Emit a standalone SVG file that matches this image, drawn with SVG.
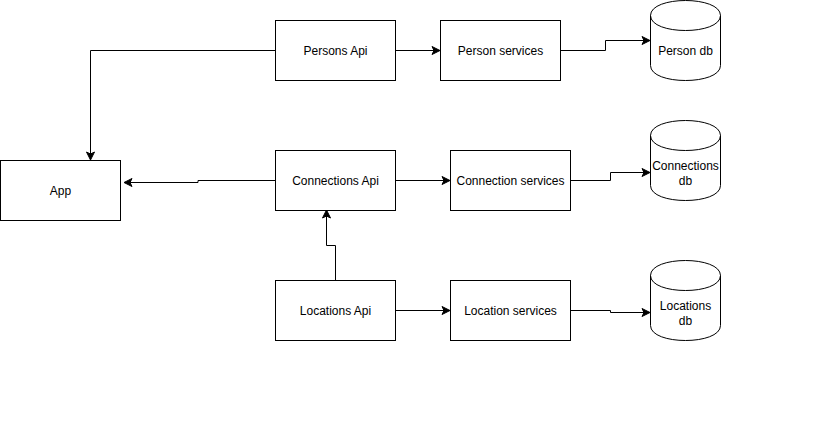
<svg xmlns="http://www.w3.org/2000/svg" width="831" height="426" viewBox="0 0 831 426">
<style>
.box{fill:#fff;stroke:#000;stroke-width:1}
.edge{fill:none;stroke:#000;stroke-width:1}
text{font-family:"Liberation Sans",Arial,sans-serif;font-size:12px;fill:#000;text-anchor:middle}
</style>
<defs>
<marker id="arr" markerUnits="userSpaceOnUse" markerWidth="12" markerHeight="12" refX="0" refY="0" orient="auto" overflow="visible">
<path d="M-2,-4 L6,0 L-2,4 L0,0 Z" fill="#000" stroke="#000" stroke-width="1"/>
</marker>
</defs>
<rect width="831" height="426" fill="#fff"/>
<g id="connectors">
<path class="edge" d="M275.5,50.5 H90.5 V154" marker-end="url(#arr)"/>
<path class="edge" d="M275.5,180.5 H198 V182.5 H130" marker-end="url(#arr)"/>
<path class="edge" d="M395.5,50.5 H434" marker-end="url(#arr)"/>
<path class="edge" d="M560.5,50.5 H605.5 V40.5 H644" marker-end="url(#arr)"/>
<path class="edge" d="M395.5,180.5 H444" marker-end="url(#arr)"/>
<path class="edge" d="M570.5,180.5 H610.5 V172.5 H644" marker-end="url(#arr)"/>
<path class="edge" d="M335.5,280.5 V245.5 H326.5 V216" marker-end="url(#arr)"/>
<path class="edge" d="M395.5,310.5 H444" marker-end="url(#arr)"/>
<path class="edge" d="M570.5,310.5 H610.5 V312.5 H644" marker-end="url(#arr)"/>
</g>
<g id="app"><rect class="box" x="0.5" y="160.5" width="120" height="60"/><text x="60.5" y="194.5">App</text></g>
<g id="persons-api"><rect class="box" x="275.5" y="20.5" width="120" height="60"/><text x="335.5" y="54.5">Persons Api</text></g>
<g id="connections-api"><rect class="box" x="275.5" y="150.5" width="120" height="60"/><text x="335.5" y="184.5">Connections Api</text></g>
<g id="locations-api"><rect class="box" x="275.5" y="280.5" width="120" height="60"/><text x="335.5" y="314.5">Locations Api</text></g>
<g id="person-services"><rect class="box" x="440.5" y="20.5" width="120" height="60"/><text x="500.5" y="54.5">Person services</text></g>
<g id="connection-services"><rect class="box" x="450.5" y="150.5" width="120" height="60"/><text x="510.5" y="184.5">Connection services</text></g>
<g id="location-services"><rect class="box" x="450.5" y="280.5" width="120" height="60"/><text x="510.5" y="314.5">Location services</text></g>
<g id="person-db">
<path class="box" d="M650.5,15.5 C650.5,-4.5 720.5,-4.5 720.5,15.5 V65.5 C720.5,85.5 650.5,85.5 650.5,65.5 Z"/>
<path class="edge" d="M650.5,15.5 C650.5,35.5 720.5,35.5 720.5,15.5"/>
<text x="685.5" y="54.5">Person db</text>
</g>
<g id="connections-db">
<path class="box" d="M650.5,135.5 C650.5,115.5 720.5,115.5 720.5,135.5 V185.5 C720.5,205.5 650.5,205.5 650.5,185.5 Z"/>
<path class="edge" d="M650.5,135.5 C650.5,155.5 720.5,155.5 720.5,135.5"/>
<text x="685.5" y="170">Connections</text>
<text x="685.5" y="184.5">db</text>
</g>
<g id="locations-db">
<path class="box" d="M650.5,275.5 C650.5,255.5 720.5,255.5 720.5,275.5 V325.5 C720.5,345.5 650.5,345.5 650.5,325.5 Z"/>
<path class="edge" d="M650.5,275.5 C650.5,295.5 720.5,295.5 720.5,275.5"/>
<text x="685.5" y="310">Locations</text>
<text x="685.5" y="324.5">db</text>
</g>
</svg>
